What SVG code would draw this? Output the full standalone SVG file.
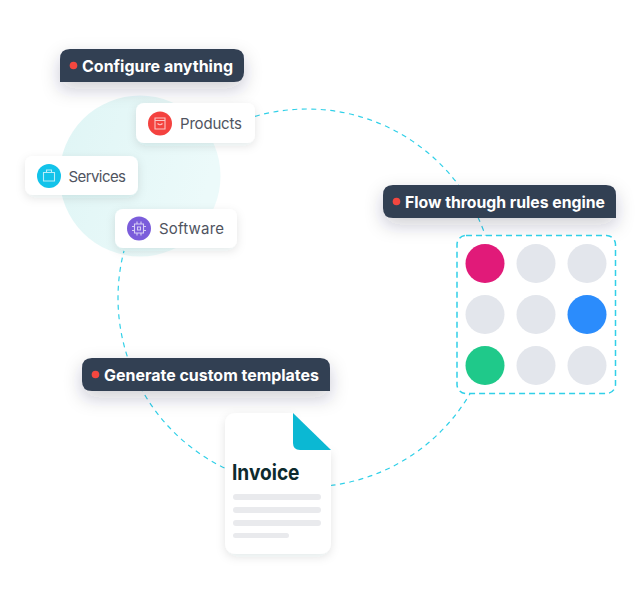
<svg xmlns="http://www.w3.org/2000/svg" width="640" height="596" viewBox="0 0 640 596">
<defs>
<filter id="s1" x="-30%" y="-80%" width="160%" height="320%"><feDropShadow dx="0" dy="7" stdDeviation="9" flood-color="#1c2a3c" flood-opacity="0.22"/></filter>
<filter id="s2" x="-30%" y="-30%" width="160%" height="170%"><feDropShadow dx="0" dy="3" stdDeviation="5" flood-color="#1c2a3c" flood-opacity="0.11"/></filter>
<linearGradient id="bg" x1="0" y1="0" x2="1" y2="0.3"><stop offset="0" stop-color="#dff5f5"/><stop offset="1" stop-color="#ecfafa"/></linearGradient>
</defs>
<style>
.tag{fill:#323f53}
.dot{fill:#f4473f}
.tt{font:700 16px "Inter","Noto Sans",sans-serif;fill:#fff}
.card{fill:#fff;filter:url(#s2)}
.ct{font:400 15px "Inter","Noto Sans",sans-serif;fill:#50545f}
.dash{fill:none;stroke:#30d0e8;stroke-width:1.2;stroke-dasharray:5 4.500}
.ic{fill:none;stroke:#fff;stroke-opacity:.7;stroke-width:1.1}
.g{fill:#e3e6ec}
.ln{fill:#e9eaed}
</style>
<rect width="640" height="596" fill="#fff"/>
<circle id="blob" cx="140" cy="176" r="80.500" fill="url(#bg)"/>
<g id="connectors">
<path class="dash" d="M255 116.300A189 189 0 1 1 124 250.800"/>
</g>
<g id="configure">
<path class="tag" filter="url(#s1)" d="M60 82V59Q60 49 70 49H234Q244 49 244 59V72Q244 82 234 82Z"/>
<circle class="dot" cx="73.500" cy="65.500" r="3.800"/>
<text class="tt" x="82" y="71.500" textLength="151" lengthAdjust="spacingAndGlyphs">Configure anything</text>
</g>
<g id="products">
<rect class="card" x="136" y="103" width="119" height="40" rx="8"/>
<circle cx="160" cy="123.500" r="12" fill="#f4423f"/>
<path class="ic" d="M155 118h10v11h-10zM155 120.500h10M157.500 123.500q2.500 2.500 5 0"/>
<text class="ct" x="180" y="129" textLength="62">Products</text>
</g>
<g id="services">
<rect class="card" x="25" y="156" width="113" height="39" rx="8"/>
<circle cx="49" cy="176" r="12" fill="#12c3ea"/>
<path class="ic" d="M43.500 172.500h11v8.500h-11zM46.500 172.500v-2.500h5v2.500"/>
<text class="ct" x="68.500" y="181.500" textLength="57.500">Services</text>
</g>
<g id="software">
<rect class="card" x="115" y="209" width="122" height="39" rx="8"/>
<circle cx="139" cy="228.500" r="12" fill="#7b5ddb"/>
<path class="ic" d="M134.500 224h9v9h-9zM137.500 227h3v3h-3zM137 221.500v2.500M141 221.500v2.500M137 233v2.500M141 233v2.500M132 226.500h2.500M132 230.500h2.500M143.500 226.500h2.500M143.500 230.500h2.500"/>
<text class="ct" x="159" y="234" textLength="65">Software</text>
</g>
<g id="rules-tag">
<path class="tag" filter="url(#s1)" d="M383 195Q383 185 393 185H606Q616 185 616 195V218H393Q383 218 383 208Z"/>
<circle class="dot" cx="396.500" cy="201.500" r="3.800"/>
<text class="tt" x="405" y="207.500" textLength="200" lengthAdjust="spacingAndGlyphs">Flow through rules engine</text>
</g>
<g id="rules-grid">
<rect x="457" y="235.500" width="158.500" height="158" rx="9" fill="#fff" stroke="#30d0e8" stroke-width="1.500" stroke-dasharray="6 4"/>
<circle cx="485" cy="263.500" r="19.500" fill="#e11a79"/>
<circle class="g" cx="536" cy="263.500" r="19.500"/>
<circle class="g" cx="587" cy="263.500" r="19.500"/>
<circle class="g" cx="485" cy="314.500" r="19.500"/>
<circle class="g" cx="536" cy="314.500" r="19.500"/>
<circle cx="587" cy="314.500" r="19.500" fill="#2b8cfc"/>
<circle cx="485" cy="365.500" r="19.500" fill="#1fc98a"/>
<circle class="g" cx="536" cy="365.500" r="19.500"/>
<circle class="g" cx="587" cy="365.500" r="19.500"/>
</g>
<g id="templates-tag">
<path class="tag" filter="url(#s1)" d="M82 368Q82 358 92 358H320Q330 358 330 368V391H92Q82 391 82 381Z"/>
<circle class="dot" cx="95.500" cy="374.500" r="3.800"/>
<text class="tt" x="104" y="380.500" textLength="215" lengthAdjust="spacingAndGlyphs">Generate custom templates</text>
</g>
<g id="invoice">
<path d="M237 413H293V440Q293 450 303 450H331V542Q331 554 319 554H237Q225 554 225 542V425Q225 413 237 413Z" fill="#fff" filter="url(#s2)"/>
<path d="M293 413L331 450H300Q293 450 293 443Z" fill="#0bb8d3"/>
<text x="232" y="480" font-family="Inter,'Noto Sans',sans-serif" font-weight="700" font-size="21" fill="#0d2a2e" textLength="67.500" lengthAdjust="spacingAndGlyphs">Invoice</text>
<rect class="ln" x="233" y="494" width="88" height="6" rx="3"/>
<rect class="ln" x="233" y="507" width="88" height="6" rx="3"/>
<rect class="ln" x="233" y="520" width="88" height="6" rx="3"/>
<rect class="ln" x="233" y="533" width="56" height="5" rx="2.500"/>
</g>
</svg>
